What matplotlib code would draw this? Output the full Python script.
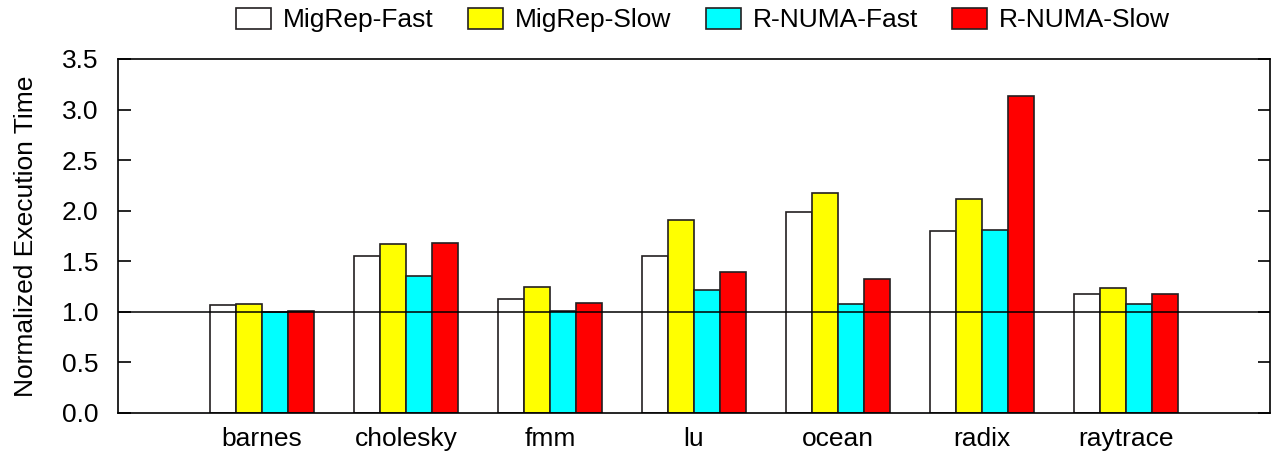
import numpy as np
import matplotlib
matplotlib.use("Agg")
import matplotlib.pyplot as plt

plt.rcParams['font.family'] = ['Liberation Sans', 'DejaVu Sans']

benchmarks = ["barnes", "cholesky", "fmm", "lu", "ocean", "radix", "raytrace"]
series = ["MigRep-Fast", "MigRep-Slow", "R-NUMA-Fast", "R-NUMA-Slow"]
migrep_fast = [1.07, 1.55, 1.13, 1.55, 1.99, 1.80, 1.18]
migrep_slow = [1.08, 1.67, 1.25, 1.91, 2.18, 2.12, 1.24]
rnuma_fast = [1.00, 1.35, 1.01, 1.22, 1.08, 1.81, 1.08]
rnuma_slow = [1.01, 1.68, 1.09, 1.39, 1.32, 3.13, 1.18]
colors = ["white", "#ffff00", "#00ffff", "#ff0000"]

fig = plt.figure(figsize=(12.71, 4.55), dpi=100)
ax = fig.add_axes([118 / 1271, 42 / 455, 1152 / 1271, 354 / 455])

x = np.arange(1, len(benchmarks) + 1)
w = 0.18
edge = "#231f20"
for i, (name, vals) in enumerate(zip(series, [migrep_fast, migrep_slow, rnuma_fast, rnuma_slow])):
    ax.bar(x + (i - 1.5) * w, vals, w, color=colors[i], edgecolor=edge,
           linewidth=1.2, label=name, zorder=2)

ax.axhline(1.0, color="black", linewidth=1.1, zorder=3)

ax.set_xlim(0, 8)
ax.set_ylim(0, 3.5)
ax.set_xticks(x)
ax.set_xticklabels(benchmarks, fontsize=19)
ax.tick_params(axis="x", length=0, pad=10)
ax.set_yticks(np.arange(0, 3.51, 0.5))
ax.set_yticklabels(["%.1f" % v for v in np.arange(0, 3.51, 0.5)], fontsize=19)
ax.tick_params(axis="y", direction="in", length=9, width=1.2, right=True, pad=14)
ax.set_ylabel("Normalized Execution Time", fontsize=19, labelpad=17)
for s in ax.spines.values():
    s.set_linewidth(1.2)

leg = ax.legend(loc="center", bbox_to_anchor=(703 / 1152 - 118 / 1152, 1 + 39 / 354), ncol=4,
                frameon=False, fontsize=19, handlelength=1.33, handleheight=0.87,
                columnspacing=1.3, handletextpad=0.45, borderaxespad=0, borderpad=0)

fig.savefig("out.png", dpi=100)
